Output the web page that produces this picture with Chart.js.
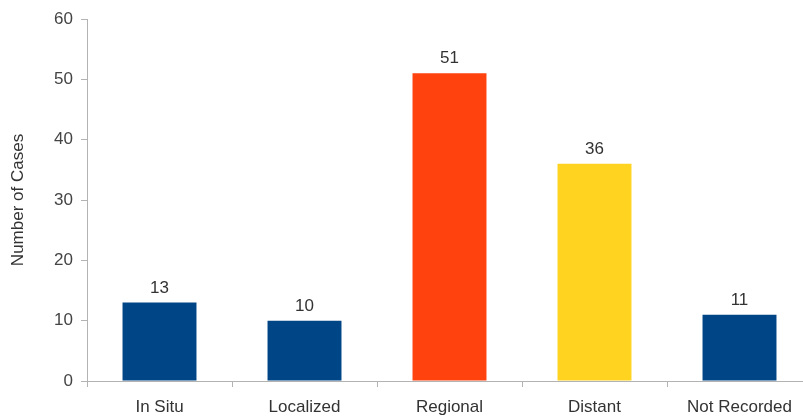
<!DOCTYPE html>
<html>
<head>
<meta charset="utf-8">
<script src="https://cdn.jsdelivr.net/npm/chart.js@4"></script>
<style>
  html, body { margin: 0; padding: 0; background: #fff; overflow: hidden; }
  #wrap { width: 812px; height: 417px; }
</style>
</head>
<body>
<div id="wrap"><canvas id="stageChart" width="812" height="417"></canvas></div>
<script>
const categories = ['In Situ', 'Localized', 'Regional', 'Distant', 'Not Recorded'];
const cases = [13, 10, 51, 36, 11];
const barColors = ['#004586', '#004586', '#ff420e', '#ffd320', '#004586'];
const yTicks = [0, 10, 20, 30, 40, 50, 60];

const fontFamily = '"Liberation Sans", Arial, sans-serif';

// draws the value above each bar
const valueLabels = {
    id: 'valueLabels',
    afterDatasetsDraw(chart) {
        const ctx = chart.ctx;
        const meta = chart.getDatasetMeta(0);
        ctx.save();
        ctx.font = '17px ' + fontFamily;
        ctx.fillStyle = '#333333';
        ctx.textAlign = 'center';
        ctx.textBaseline = 'bottom';
        meta.data.forEach((bar, i) => {
            ctx.fillText(cases[i], bar.x, bar.y - 6);
        });
        ctx.restore();
    }
};

const ctx = document.getElementById('stageChart').getContext('2d');
const stageChart = new Chart(ctx, {
    type: 'bar',
    data: {
        labels: categories,
        datasets: [{
            label: 'Number of Cases',
            data: cases,
            backgroundColor: barColors,
            borderWidth: 0,
            barPercentage: 0.51,
            categoryPercentage: 1
        }]
    },
    options: {
        responsive: false,
        animation: false,
        layout: { padding: { top: 19, right: 0, bottom: 0, left: 0 } },
        plugins: {
            legend: { display: false },
            tooltip: { enabled: false }
        },
        scales: {
            x: {
                offset: true,
                grid: {
                    offset: true,
                    drawOnChartArea: false,
                    drawTicks: true,
                    tickLength: 6,
                    color: '#b3b3b3'
                },
                border: { color: '#b3b3b3' },
                ticks: {
                    color: '#333333',
                    font: { family: fontFamily, size: 17 },
                    padding: 10,
                    maxRotation: 0
                },
                afterFit(scale) { scale.height = 36; }
            },
            y: {
                min: 0,
                max: 60,
                afterBuildTicks(scale) { scale.ticks = yTicks.map(v => ({ value: v })); },
                grid: {
                    drawOnChartArea: false,
                    drawTicks: true,
                    tickLength: 6,
                    color: '#b3b3b3'
                },
                border: { color: '#b3b3b3' },
                ticks: {
                    color: '#444444',
                    font: { family: fontFamily, size: 17 },
                    padding: 8
                },
                title: {
                    display: true,
                    text: 'Number of Cases',
                    color: '#333333',
                    font: { family: fontFamily, size: 17 },
                    padding: { top: 8, bottom: 0 }
                },
                afterFit(scale) { scale.width = 87; }
            }
        }
    },
    plugins: [valueLabels]
});
</script>
</body>
</html>
